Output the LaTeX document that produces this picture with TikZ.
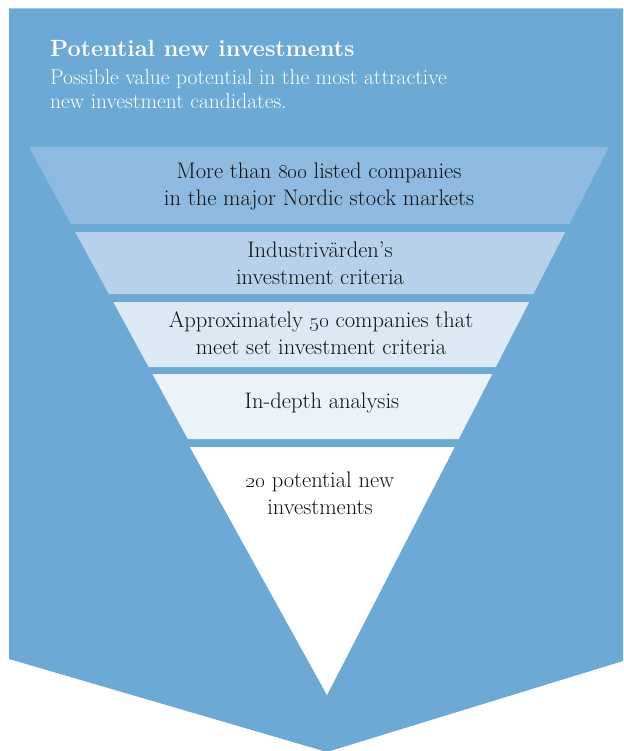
\documentclass[tikz,border=0pt]{standalone}
\definecolor{bgblue}{HTML}{6CAAD5}
\definecolor{bandA}{HTML}{8FBADF}
\definecolor{bandB}{HTML}{B6D1E9}
\definecolor{bandC}{HTML}{DCE8F4}
\definecolor{bandD}{HTML}{ECF2F9}
\definecolor{inktext}{HTML}{111111}
\begin{document}
\begin{tikzpicture}[x=1pt, y=-1pt,
		stage/.style = {align=center, text=inktext, font=\fontsize{22.5}{27}\selectfont},
		head/.style = {anchor=base west, text=white, inner sep=0pt}]

		\useasboundingbox (0,0) rectangle (623,751);
		\clip (0,0) rectangle (623,751);

		% blue chevron behind the funnel
		\fill[bgblue] (9,8.5) -- (623,8.5) -- (623,661) -- (327,752) -- (9,659) -- cycle;

		% funnel bands
		\foreach \ya/\yb/\col in {147/224/bandA, 232/294/bandB, 302/367/bandC, 374/439/bandD}
			\fill[\col] ({29+(\ya-147)*0.5438},\ya) -- ({609-(\ya-147)*0.5146},\ya)
				-- ({609-(\yb-147)*0.5146},\yb) -- ({29+(\yb-147)*0.5438},\yb) -- cycle;
		\fill[white] (189.9,447) -- (454.6,447) -- (327,695) -- cycle;

		\node[head, font=\fontsize{23.5}{25}\selectfont\bfseries] (title) at (50,57) {Potential new investments};
		\node[head, font=\fontsize{21.5}{23.5}\selectfont] (sub1) at (50,85) {Possible value potential in the most attractive};
		\node[head, font=\fontsize{21.5}{23.5}\selectfont] (sub2) at (50,108.5) {new investment candidates.};

		\node[stage] (listed) at (319,186) {More than \oldstylenums{800} listed companies\\in the major Nordic stock markets};
		\node[stage] (criteria) at (320,263.5) {Industrivärden’s\\investment criteria};
		\node[stage] (approx) at (321,333) {Approximately \oldstylenums{50} companies that\\meet set investment criteria};
		\node[stage] (analysis) at (322,403) {In-depth analysis};
		\node[stage] (potential) at (320,493) {\oldstylenums{20} potential new\\investments};
	\end{tikzpicture}
\end{document}
